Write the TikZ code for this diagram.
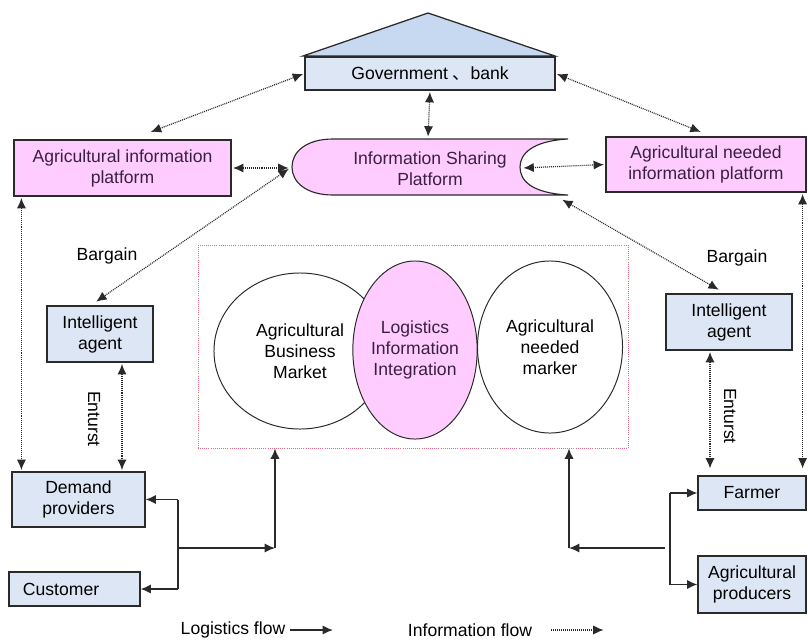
\documentclass[tikz,border=0pt]{standalone}
\usepackage{fontspec}
\setmainfont{Liberation Sans}
\newfontfamily\cjk{Noto Sans CJK SC}
\usetikzlibrary{arrows.meta, shapes.geometric, calc}
\definecolor{boxblue}{HTML}{DCE6F4}
\definecolor{roofblue}{HTML}{C6D9F1}
\definecolor{platpink}{HTML}{FFCCFF}
\definecolor{edgegray}{HTML}{2A2A2A}
\definecolor{plumtext}{HTML}{3A2040}
\definecolor{marketred}{HTML}{E07088}
\tikzset{
  bluebox/.style={draw=edgegray, fill=boxblue, line width=0.8pt, align=center, inner sep=2pt},
  pinkbox/.style={draw=edgegray, fill=platpink, line width=0.8pt, align=center, text=plumtext},
  bubble/.style={ellipse, draw=edgegray, line width=0.7pt, align=center, inner sep=0pt},
  infoline/.style={draw=edgegray, line width=0.85pt, dash pattern=on 0.7pt off 0.7pt, shorten <=1pt, shorten >=1pt},
  infoflow/.style={infoline, {Latex[length=2.6mm,width=2.3mm]}-{Latex[length=2.6mm,width=2.3mm]}},
  infoone/.style={infoline, -{Latex[length=2.6mm,width=2.3mm]}},
  logline/.style={draw=edgegray, line width=1pt},
  logflow/.style={logline, -{Latex[length=2.6mm,width=2.3mm]}},
}

\begin{document}
\begin{tikzpicture}[x=0.025cm, y=-0.025cm, font=\fontsize{12.5}{15}\selectfont]
  \useasboundingbox (0,0) rectangle (808,639);

  % Roof and the bank on top
  \draw[draw=edgegray, fill=roofblue, line width=0.9pt] (303,56) -- (428,13) -- (555,56) -- cycle;
  \node[bluebox, minimum width=6.25cm, minimum height=0.825cm] (gov) at (430,73.5) {Government {\cjk 、}bank};

  % Platforms
  \node[pinkbox, minimum width=5.425cm, minimum height=1.4cm] (aip) at (122.5,168) {Agricultural information\\platform};
  \node[pinkbox, minimum width=5cm, minimum height=1.375cm] (anip) at (706,164.5) {Agricultural needed\\information platform};

  % Information sharing platform
  \filldraw[draw=edgegray, fill=platpink, line width=0.8pt]
    (333,139) -- (568,139) .. controls (532,141) and (520,154) .. (520,167)
    .. controls (520,181) and (532,193) .. (568,195) -- (333,195)
    .. controls (306,195) and (292,182) .. (292,167)
    .. controls (292,152) and (306,139) .. (333,139) -- cycle;
  \node[text=plumtext, align=center] (isp) at (430,169) {Information Sharing\\Platform};
  \coordinate (ispW) at (290,168);
  \coordinate (ispE) at (522,168);
  \coordinate (ispN) at (428,138);
  \coordinate (ispSE) at (561,199);

  % Market area
  \node[draw=marketred, densely dotted, line width=0.5pt, minimum width=10.75cm, minimum height=5.075cm] (market) at (413,346.5) {};
  \node[bubble, minimum width=4.3cm, minimum height=3.9cm] (abm) at (300,351) {Agricultural\\Business\\Market};
  \node[bubble, fill=platpink, text=plumtext, minimum width=3.1cm, minimum height=4.45cm] (lii) at (415,350) {Logistics\\Information\\Integration};
  \node[bubble, minimum width=3.625cm, minimum height=4.3cm] (anm) at (550,347) {Agricultural\\needed\\marker};

  % Agents and actors
  \node[bluebox, minimum width=2.65cm, minimum height=1.4cm] (iaL) at (100,334) {Intelligent\\agent};
  \node[bluebox, minimum width=3.15cm, minimum height=1.4cm] (iaR) at (729,322) {Intelligent\\agent};
  \node[bluebox, minimum width=3.325cm, minimum height=1.375cm] (demand) at (78.5,499.5) {Demand\\providers};
  \node[bluebox, minimum width=3.275cm, minimum height=0.85cm, text width=2.575cm, inner xsep=0.35cm, align=left] (customer) at (74.5,589) {Customer};
  \node[bluebox, minimum width=2.7cm, minimum height=0.85cm] (farmer) at (752,493) {Farmer};
  \node[bluebox, minimum width=2.7cm, minimum height=1.425cm] (producers) at (752,584.5) {Agricultural\\producers};

  % Labels
  \node (bargainL) at (107,256) {Bargain};
  \node (bargainR) at (737,258) {Bargain};
  \node[rotate=-90] (entrustL) at (94,419) {Enturst};
  \node[rotate=-90] (entrustR) at (730,416) {Enturst};

  % Information flow
  \draw[infoflow] ($(aip.north)+(27,-7)$) -- (gov.west);
  \draw[infoflow] (gov.east) -- ($(anip.north)+(-4,-4)$);
  \draw[infoflow] (gov.south) -- (ispN);
  \draw[infoflow] (aip.east) -- (ispW);
  \draw[infoflow] (ispE) -- (anip.west);
  \draw[infoflow] (ispW) -- ($(iaL.north)+(-5,-3)$);
  \draw[infoflow] (ispSE) -- ($(iaR.north)+(-9,-3)$);
  \coordinate (vL) at ($(aip.south west)+(8,0)$);
  \coordinate (vR) at ($(anip.south east)+(-4,0)$);
  \coordinate (eL) at ($(iaL.south)+(22,0)$);
  \coordinate (eR) at ($(iaR.south)+(-19,0)$);
  \draw[infoflow] (vL) -- (vL |- demand.north);
  \draw[infoflow, shorten >=5pt] (vR) -- (vR |- farmer.north);
  \draw[infoflow] (eL) -- (eL |- demand.north);
  \draw[infoflow, shorten >=5pt] (eR) -- (eR |- farmer.north);

  % Logistics flow, left side
  \coordinate (ljL) at (178,548);
  \coordinate (lcL) at (275,548);
  \draw[logline] (demand.east -| ljL) -- (customer.east -| ljL);
  \draw[logflow] (demand.east -| ljL) -- (demand.east);
  \draw[logflow] (customer.east -| ljL) -- (customer.east);
  \draw[logflow] (ljL) -- (lcL);
  \draw[logflow] (lcL) -- (lcL |- market.south);

  % Logistics flow, right side
  \coordinate (ljR) at (670,548);
  \coordinate (lcR) at (569,548);
  \draw[logline] (farmer.west -| ljR) -- (producers.west -| ljR);
  \draw[logflow] (farmer.west -| ljR) -- (farmer.west);
  \draw[logflow] (producers.west -| ljR) -- (producers.west);
  \draw[logflow] ($(ljR)+(-5,0)$) -- (lcR);
  \draw[logflow] (lcR) -- (lcR |- market.south);

  % Legend
  \node (legLog) at (233,630) {Logistics flow};
  \coordinate (legLogEnd) at (333,630);
  \draw[logflow] (legLog.east) -- (legLogEnd);
  \node (legInfo) at (470,630) {Information flow};
  \coordinate (legInfoA) at (550,630);
  \coordinate (legInfoB) at (605,630);
  \draw[infoone] (legInfoA) -- (legInfoB);
\end{tikzpicture}
\end{document}
